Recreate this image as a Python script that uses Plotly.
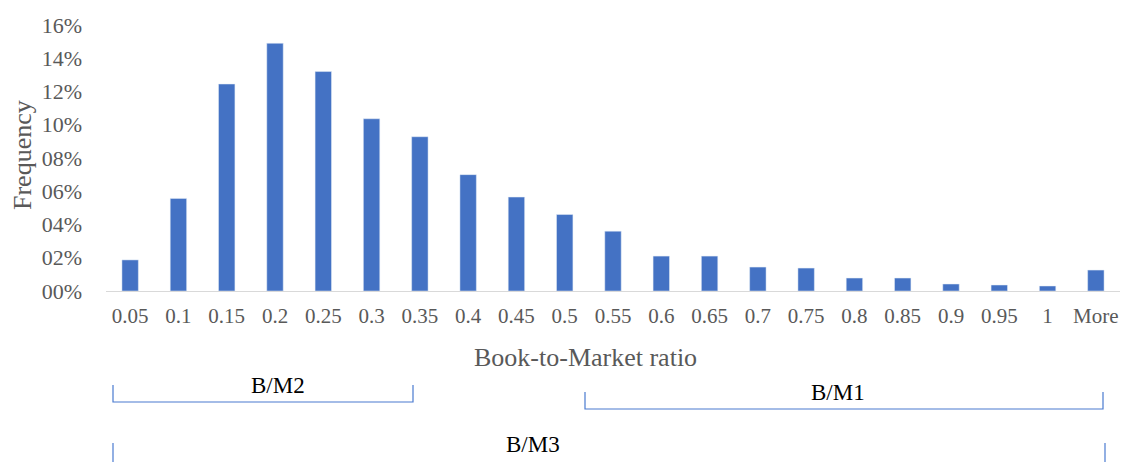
import plotly.graph_objects as go

categories = ["0.05", "0.1", "0.15", "0.2", "0.25", "0.3", "0.35", "0.4", "0.45", "0.5",
              "0.55", "0.6", "0.65", "0.7", "0.75", "0.8", "0.85", "0.9", "0.95", "1", "More"]
frequency = [0.0187, 0.0557, 0.1245, 0.149, 0.132, 0.1036, 0.0928, 0.070, 0.0565, 0.046,
             0.036, 0.021, 0.021, 0.0144, 0.0138, 0.0078, 0.0078, 0.0042, 0.0036, 0.003, 0.0126]
y_tickvals = [0, 0.02, 0.04, 0.06, 0.08, 0.10, 0.12, 0.14, 0.16]
y_ticktext = ["00%", "02%", "04%", "06%", "08%", "10%", "12%", "14%", "16%"]

FONT = "Liberation Serif"
GREY = "#595959"
BR = "#4a7bd0"

fig = go.Figure(go.Bar(x=list(range(len(categories))), y=frequency, marker_color="#4472C4",
                       width=0.34))

W, H = 1124, 462
L, R, T, B = 106, 4, 25, 171

def px(x):
    return (x - L) / (W - L - R)

def py(y):
    return (H - B - y) / (H - T - B)

fig.update_layout(
    width=W, height=H, margin=dict(l=L, r=R, t=T, b=B),
    plot_bgcolor="white", paper_bgcolor="white", showlegend=False,
    font=dict(family=FONT, color=GREY, size=16),
    xaxis=dict(tickmode="array", tickvals=list(range(len(categories))), ticktext=categories,
               range=[-0.5, 20.5], showline=True, linecolor="#d9d9d9", linewidth=1,
               showgrid=False, ticks="", ticklabelstandoff=6,
               tickfont=dict(family=FONT, size=21, color=GREY)),
    yaxis=dict(tickmode="array", tickvals=y_tickvals, ticktext=y_ticktext, range=[0, 0.16],
               showgrid=False, zeroline=False, showline=False, ticks="", ticklabelstandoff=23,
               tickfont=dict(family=FONT, size=22, color=GREY)),
)

ann = []
ann.append(dict(text="Book-to-Market ratio", x=px(585), y=py(357), xref="paper", yref="paper",
                xanchor="center", yanchor="middle",
                showarrow=False, font=dict(family=FONT, size=26, color=GREY)))
ann.append(dict(text="Frequency", x=px(22), y=py(155), xref="paper", yref="paper", textangle=-90,
                xanchor="center", yanchor="middle",
                showarrow=False, font=dict(family=FONT, size=26, color=GREY)))
for txt, cx, cy in [("B/M2", 278, 385), ("B/M1", 838, 392), ("B/M3", 533, 444)]:
    ann.append(dict(text=txt, x=px(cx), y=py(cy), xref="paper", yref="paper", showarrow=False,
                    xanchor="center", yanchor="middle",
                    font=dict(family=FONT, size=23, color="black")))
fig.update_layout(annotations=ann)

def bracket(x0, x1, ytop, ybot):
    path = f"M {px(x0)},{py(ytop)} L {px(x0)},{py(ybot)} L {px(x1)},{py(ybot)} L {px(x1)},{py(ytop)}"
    fig.add_shape(type="path", path=path, xref="paper", yref="paper",
                  line=dict(color=BR, width=1.2))

bracket(113, 413, 385, 402)
bracket(585, 1103, 392, 409)
for xx in (113, 1105):
    fig.add_shape(type="line", x0=px(xx), x1=px(xx), y0=py(443), y1=py(462), xref="paper",
                  yref="paper", line=dict(color=BR, width=1.2))

fig.write_html("out.html")
